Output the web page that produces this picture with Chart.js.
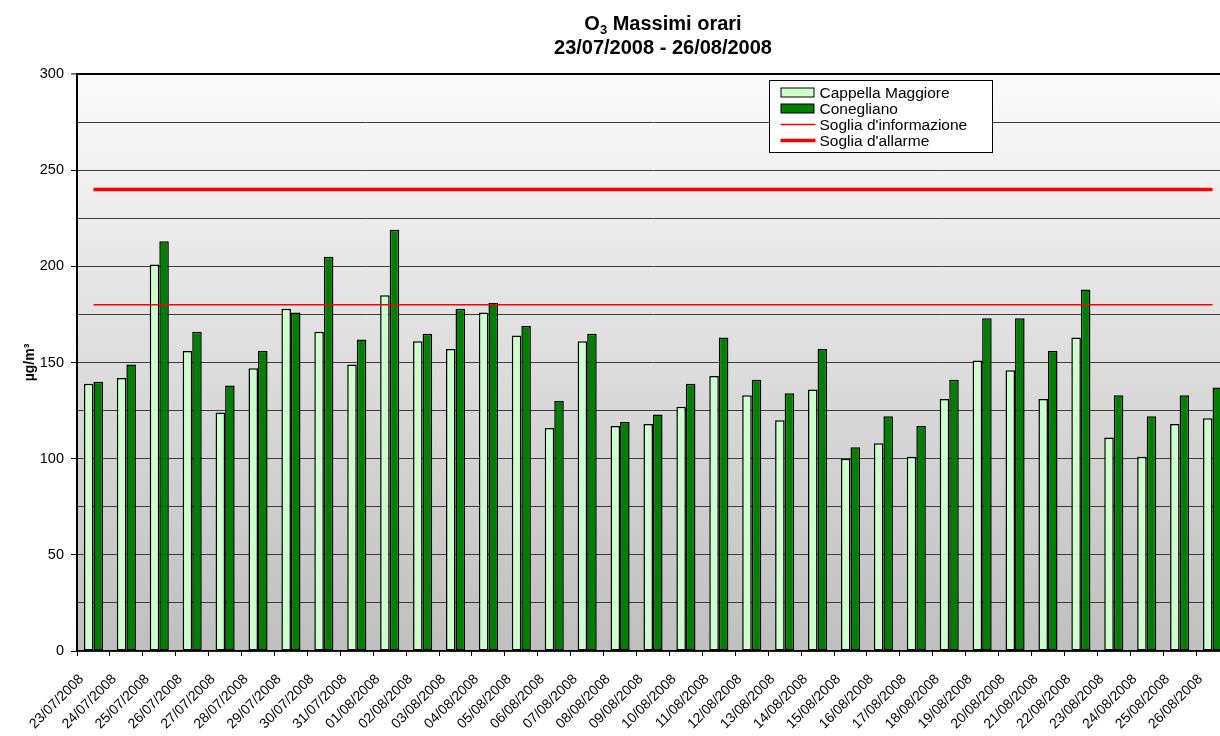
<!DOCTYPE html>
<html lang="it">
<head>
<meta charset="utf-8">
<title>O3 Massimi orari</title>
<script src="https://cdn.jsdelivr.net/npm/chart.js@4.4.1/dist/chart.umd.min.js"></script>
<style>
  html, body { margin: 0; padding: 0; background: #ffffff; overflow: hidden; }
  #wrap { position: relative; width: 1240px; height: 736px; }
</style>
</head>
<body>
<div id="wrap"><canvas id="chart" width="1240" height="736"></canvas></div>
<script>
// Giorni del periodo di misura
const dates = [
  '23/07/2008','24/07/2008','25/07/2008','26/07/2008','27/07/2008','28/07/2008','29/07/2008',
  '30/07/2008','31/07/2008','01/08/2008','02/08/2008','03/08/2008','04/08/2008','05/08/2008',
  '06/08/2008','07/08/2008','08/08/2008','09/08/2008','10/08/2008','11/08/2008','12/08/2008',
  '13/08/2008','14/08/2008','15/08/2008','16/08/2008','17/08/2008','18/08/2008','19/08/2008',
  '20/08/2008','21/08/2008','22/08/2008','23/08/2008','24/08/2008','25/08/2008','26/08/2008'
];

// Massimi orari di O3 (µg/m³) per stazione
const cappellaMaggiore = [
  139, 142, 201, 156, 124, 147, 178, 166, 149, 185, 161, 157, 176, 164, 116, 161, 117, 118,
  127, 143, 133, 120, 136, 100, 108, 101, 131, 151, 146, 131, 163, 111, 101, 118, 121
];
const conegliano = [
  140, 149, 213, 166, 138, 156, 176, 205, 162, 219, 165, 178, 181, 169, 130, 165, 119, 123,
  139, 163, 141, 134, 157, 106, 122, 117, 141, 173, 173, 156, 188, 133, 122, 133, 137
];

// Soglie di legge (µg/m³)
const sogliaInformazione = [
  180, 180, 180, 180, 180, 180, 180, 180, 180, 180, 180, 180, 180, 180, 180, 180, 180, 180,
  180, 180, 180, 180, 180, 180, 180, 180, 180, 180, 180, 180, 180, 180, 180, 180, 180
];
const sogliaAllarme = [
  240, 240, 240, 240, 240, 240, 240, 240, 240, 240, 240, 240, 240, 240, 240, 240, 240, 240,
  240, 240, 240, 240, 240, 240, 240, 240, 240, 240, 240, 240, 240, 240, 240, 240, 240
];

// Etichette dell'asse verticale
const yTickLabels = [0, 50, 100, 150, 200, 250, 300];

const FONT = "'Liberation Sans', Arial, sans-serif";

// Sfondo sfumato dell'area del grafico
const plotBackground = {
  id: 'plotBackground',
  beforeDraw(chart) {
    const { ctx, chartArea: a } = chart;
    const g = ctx.createLinearGradient(0, a.top, 0, a.bottom);
    g.addColorStop(0, '#fbfbfb');
    g.addColorStop(1, '#bfbfbf');
    ctx.save();
    ctx.fillStyle = g;
    ctx.fillRect(a.left, a.top, a.right - a.left, a.bottom - a.top);
    ctx.restore();
  }
};

// Titolo su due righe, con il pedice di O3
const chartTitle = {
  id: 'chartTitle',
  afterDraw(chart) {
    const { ctx } = chart;
    const cx = 663;
    ctx.save();
    ctx.fillStyle = '#000';
    ctx.textBaseline = 'alphabetic';
    const big = 'bold 20px ' + FONT;
    const small = 'bold 13px ' + FONT;
    ctx.font = big;
    const wO = ctx.measureText('O').width;
    const rest = ' Massimi orari';
    const wRest = ctx.measureText(rest).width;
    ctx.font = small;
    const wSub = ctx.measureText('3').width;
    const total = wO + wSub + wRest;
    let x = cx - total / 2;
    const y1 = 30;
    ctx.textAlign = 'left';
    ctx.font = big;
    ctx.fillText('O', x, y1);
    x += wO;
    ctx.font = small;
    ctx.fillText('3', x, y1 + 4);
    x += wSub;
    ctx.font = big;
    ctx.fillText(rest, x, y1);
    ctx.textAlign = 'center';
    ctx.fillText('23/07/2008 - 26/08/2008', cx, 54);
    ctx.restore();
  }
};

// Legenda riquadrata all'interno dell'area del grafico
const boxedLegend = {
  id: 'boxedLegend',
  afterDraw(chart) {
    const { ctx } = chart;
    const ds = chart.data.datasets;
    const bx = 769.5, by = 80.5, bw = 223, bh = 72;
    ctx.save();
    ctx.fillStyle = '#ffffff';
    ctx.fillRect(bx, by, bw, bh);
    ctx.strokeStyle = '#000';
    ctx.lineWidth = 1;
    ctx.strokeRect(bx, by, bw, bh);
    ctx.font = '15.5px ' + FONT;
    ctx.textBaseline = 'middle';
    ctx.textAlign = 'left';
    const rowH = 16;
    const y0 = by + 12;
    ds.forEach((d, i) => {
      const y = y0 + i * rowH;
      if (d.type === 'line') {
        ctx.strokeStyle = d.borderColor;
        ctx.lineWidth = d.borderWidth;
        ctx.beginPath();
        ctx.moveTo(bx + 11, y);
        ctx.lineTo(bx + 46, y);
        ctx.stroke();
      } else {
        ctx.fillStyle = d.backgroundColor;
        ctx.fillRect(bx + 11.5, y - 4.5, 33, 9);
        ctx.strokeStyle = '#000';
        ctx.lineWidth = 1;
        ctx.strokeRect(bx + 11.5, y - 4.5, 33, 9);
      }
      ctx.fillStyle = '#000';
      ctx.fillText(d.label, bx + 50, y + 1);
    });
    ctx.restore();
  }
};

new Chart(document.getElementById('chart'), {
  data: {
    labels: dates,
    datasets: [
      {
        type: 'bar', label: 'Cappella Maggiore', data: cappellaMaggiore,
        backgroundColor: '#ccffcc', borderColor: '#000', borderWidth: 1.5, borderSkipped: false,
        categoryPercentage: 0.58, barPercentage: 1.0, order: 2
      },
      {
        type: 'bar', label: 'Conegliano', data: conegliano,
        backgroundColor: '#008000', borderColor: '#000', borderWidth: 1.5, borderSkipped: false,
        categoryPercentage: 0.58, barPercentage: 1.0, order: 2
      },
      {
        type: 'line', label: "Soglia d'informazione", data: sogliaInformazione,
        borderColor: '#ff0000', borderWidth: 1.5, pointRadius: 0, fill: false, order: 1
      },
      {
        type: 'line', label: "Soglia d'allarme", data: sogliaAllarme,
        borderColor: '#ff0000', borderWidth: 3.5, pointRadius: 0, fill: false, order: 1
      }
    ]
  },
  options: {
    responsive: false,
    animation: false,
    devicePixelRatio: 1,
    layout: { padding: { top: 74, right: 11, bottom: 0, left: 0 } },
    plugins: {
      legend: { display: false },
      title: { display: false },
      tooltip: { enabled: false }
    },
    scales: {
      x: {
        type: 'category',
        offset: true,
        afterFit(scale) { scale.height = 85; },
        border: { display: true, color: '#000', width: 1.5 },
        grid: {
          offset: true, drawOnChartArea: false, drawTicks: true,
          tickLength: 5, tickColor: '#000', tickWidth: 1
        },
        ticks: {
          autoSkip: false, maxRotation: 45, minRotation: 45,
          color: '#000', font: { family: FONT, size: 14 },
          padding: 15, labelOffset: -12
        }
      },
      y: {
        min: 0, max: 300,
        afterFit(scale) { scale.width = 77; },
        border: { display: true, color: '#000', width: 2 },
        grid: {
          color: (c) => (c.tick && c.tick.value === 300 ? '#000' : '#3c3c3c'),
          lineWidth: (c) => (c.tick && c.tick.value === 300 ? 2 : 1),
          tickLength: 6,
          tickColor: (c) => (c.tick && yTickLabels.includes(c.tick.value) ? '#000' : 'rgba(0,0,0,0)'),
          tickWidth: 1
        },
        ticks: {
          stepSize: 25,
          padding: 7,
          color: '#000',
          font: { family: FONT, size: 14.5 },
          callback: (v) => (yTickLabels.includes(v) ? String(v) : '')
        },
        title: {
          display: true, text: 'µg/m³', color: '#000',
          font: { family: FONT, size: 14, weight: 'bold' },
          padding: { top: 22, bottom: 0 }
        }
      }
    }
  },
  plugins: [plotBackground, chartTitle, boxedLegend]
});
</script>
</body>
</html>
